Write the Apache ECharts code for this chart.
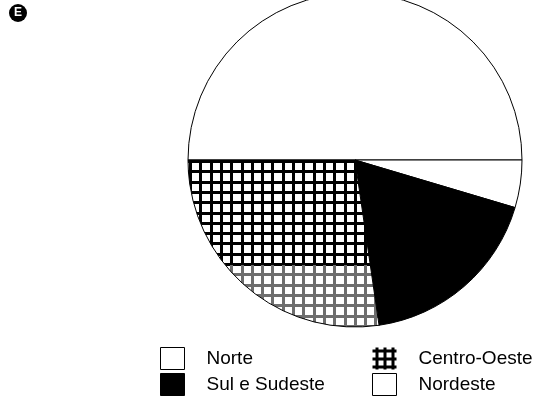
<!DOCTYPE html>
<html>
<head>
<meta charset="utf-8">
<script src="https://cdn.jsdelivr.net/npm/echarts@6/dist/echarts.min.js"></script>
<style>
html,body{margin:0;padding:0;background:#fff;}
#chart{width:547px;height:403px;}
</style>
</head>
<body>
<div id="chart"></div>
<script>
// Data (percent shares)
const categories = ['Nordeste', 'Norte', 'Sul e Sudeste', 'Centro-Oeste'];
const values = [50, 4.6, 18.1, 27.3];
const legendLeft = ['Norte', 'Sul e Sudeste'];
const legendRight = ['Centro-Oeste', 'Nordeste'];
const panelMark = 'E';

// Grid hatch pattern for Centro-Oeste (full-size canvas, anchored to page origin)
function makeHatch() {
  const c = document.createElement('canvas');
  c.width = 547; c.height = 403;
  const ctx = c.getContext('2d');
  ctx.fillStyle = '#fff';
  ctx.fillRect(0, 0, c.width, c.height);
  const step = 10.3;
  const colAt = y => (y > 264 && y < 334) ? '#6e6e6e' : '#000';
  for (let y = 160; y < 403; y += step) {
    ctx.fillStyle = colAt(y);
    ctx.fillRect(0, Math.round(y), 547, 3);
  }
  for (let x = 189; x < 547; x += step) {
    for (let y = 150; y < 403; y++) {
      ctx.fillStyle = colAt(y);
      ctx.fillRect(Math.round(x), y, 3, 1);
    }
  }
  return c;
}

// Small tile for the legend swatch
function makeTile() {
  const c = document.createElement('canvas');
  c.width = 8; c.height = 8;
  const ctx = c.getContext('2d');
  ctx.fillStyle = '#fff';
  ctx.fillRect(0, 0, 8, 8);
  ctx.fillStyle = '#000';
  ctx.fillRect(0, 2, 8, 3);
  ctx.fillRect(3, 0, 3, 8);
  return c;
}

const colors = {
  'Nordeste': '#ffffff',
  'Norte': '#ffffff',
  'Sul e Sudeste': '#000000',
  'Centro-Oeste': { image: makeHatch(), repeat: 'repeat' }
};
const legendColors = Object.assign({}, colors, {
  'Centro-Oeste': { image: makeTile(), repeat: 'repeat' }
});

const chart = echarts.init(document.getElementById('chart'), null, { renderer: 'canvas' });

const legendText = {
  fontFamily: 'Liberation Sans, Arial, sans-serif',
  fontSize: 19,
  lineHeight: 18,
  color: '#000',
  padding: [5, 0, 0, 17]
};

const legendBase = {
  orient: 'vertical', top: 347, padding: 0,
  icon: 'rect', itemWidth: 24, itemHeight: 22, itemGap: 3,
  selectedMode: false, textStyle: legendText,
  itemStyle: { borderColor: '#000', borderWidth: 1 }
};
const legendItems = names => names.map(n => ({
  name: n,
  itemStyle: { color: legendColors[n], borderColor: '#000', borderWidth: n === 'Centro-Oeste' ? 0 : 1 }
}));

chart.setOption({
  animation: false,
  backgroundColor: '#fff',
  legend: [
    Object.assign({}, legendBase, { data: legendItems(legendLeft), left: 160 }),
    Object.assign({}, legendBase, { data: legendItems(legendRight), left: 372 })
  ],
  graphic: [
    { type: 'circle', shape: { cx: 18, cy: 13, r: 9 }, style: { fill: '#000' } },
    { type: 'text', x: 18, y: 13, style: { text: panelMark, fill: '#fff', font: 'bold 12px Liberation Sans, Arial, sans-serif', align: 'center', verticalAlign: 'middle' } }
  ],
  series: [{
    type: 'pie',
    center: [355, 160],
    radius: 167,
    startAngle: 180,
    clockwise: true,
    label: { show: false },
    labelLine: { show: false },
    emphasis: { disabled: true },
    itemStyle: { borderColor: '#000', borderWidth: 1 },
    data: categories.map((n, i) => ({ name: n, value: values[i], itemStyle: { color: colors[n] } }))
  }]
});
</script>
</body>
</html>
